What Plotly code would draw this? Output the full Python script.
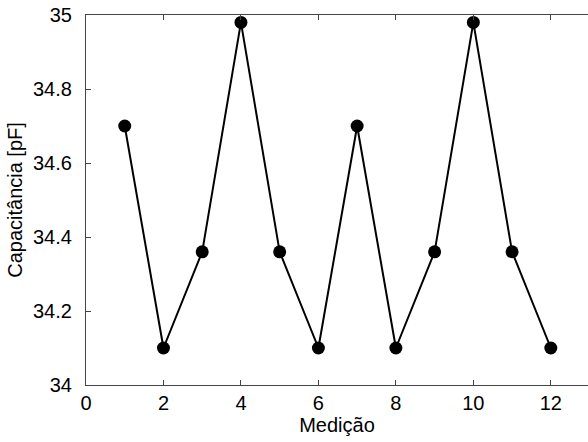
import plotly.graph_objects as go

# Measurement index and measured capacitance (pF)
medicao = [1, 2, 3, 4, 5, 6, 7, 8, 9, 10, 11, 12]
capacitancia = [34.70, 34.10, 34.36, 34.98, 34.36, 34.10, 34.70, 34.10, 34.36, 34.98, 34.36, 34.10]

x_ticks = [0, 2, 4, 6, 8, 10, 12]
y_ticks = [34.0, 34.2, 34.4, 34.6, 34.8, 35.0]
y_tick_text = ["34", "34.2", "34.4", "34.6", "34.8", "35"]

font_family = "Liberation Sans, Arial, sans-serif"

fig = go.Figure()
fig.add_trace(go.Scatter(
    x=medicao,
    y=capacitancia,
    mode="lines+markers",
    line=dict(color="black", width=2),
    marker=dict(color="black", size=13, symbol="circle"),
    showlegend=False,
))

fig.update_layout(
    width=588,
    height=442,
    margin=dict(l=86, r=0, t=15, b=57),
    paper_bgcolor="white",
    plot_bgcolor="white",
    font=dict(family=font_family, size=20, color="black"),
)

fig.update_xaxes(
    range=[0, 12.96],
    tickvals=x_ticks,
    ticktext=[str(v) for v in x_ticks],
    ticks="inside",
    ticklen=5,
    tickcolor="#444",
    showline=True,
    linecolor="#444",
    linewidth=1.2,
    mirror="ticks",
    showgrid=False,
    zeroline=False,
    tickfont=dict(size=20),
    ticklabelstandoff=0,
    title=dict(text="Medição", font=dict(size=20), standoff=2),
)

fig.update_yaxes(
    range=[34, 35],
    tickvals=y_ticks,
    ticktext=y_tick_text,
    ticks="inside",
    ticklen=5,
    tickcolor="#444",
    showline=True,
    linecolor="#444",
    linewidth=1.2,
    mirror=False,
    showgrid=False,
    zeroline=False,
    tickfont=dict(size=20),
    ticklabelstandoff=9,
    title=dict(text="Capacitância [pF]", font=dict(size=20), standoff=4),
)

fig.write_html("out.html")
